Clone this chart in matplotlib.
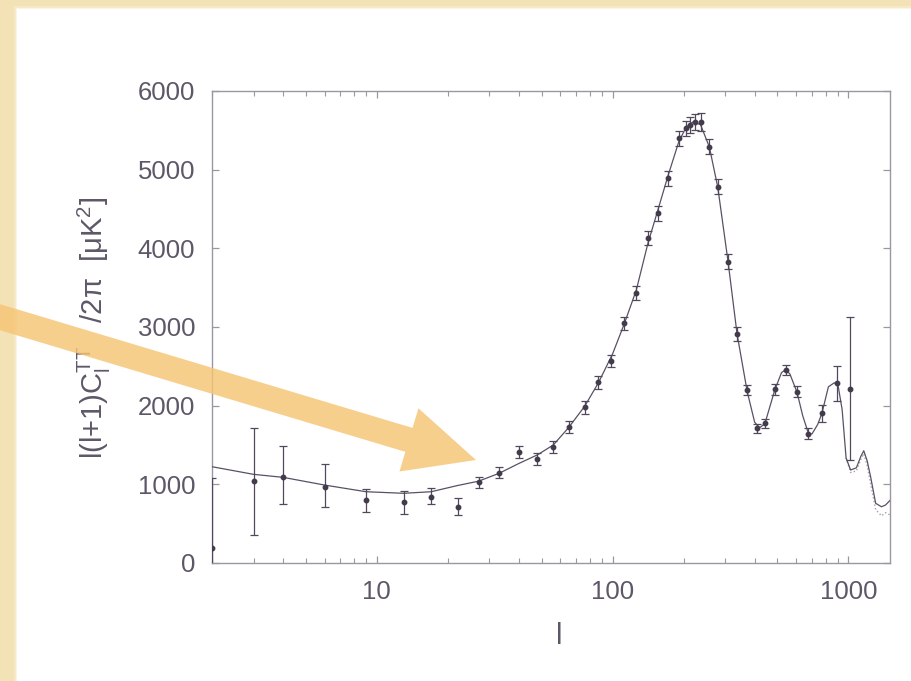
import matplotlib
matplotlib.use("Agg")
import matplotlib.pyplot as plt
from matplotlib.patches import Polygon, Rectangle
from matplotlib.transforms import IdentityTransform

plt.rcParams['font.family'] = ['Liberation Sans', 'DejaVu Sans']

# Binned TT angular power spectrum, l(l+1)C_l/2pi in uK^2
ell = [2, 3, 4, 6, 9, 13, 17, 22, 27, 33, 40, 48, 56, 65, 76, 87, 98,
       112, 126, 141, 156, 172, 191, 204, 213, 223, 236, 257, 279, 308,
       337, 372, 410, 442, 487, 542, 605, 676, 771, 895, 1019]
power = [194, 1046, 1089, 970, 801, 779, 843, 716, 1026, 1150, 1415, 1325,
         1478, 1732, 1980, 2295, 2570, 3047, 3428, 4127, 4445, 4890, 5398,
         5525, 5567, 5609, 5600, 5291, 4783, 3830, 2910, 2199, 1712, 1776,
         2207, 2453, 2177, 1640, 1903, 2284, 2215]
err_lo = [700, 690, 339, 254, 149, 156, 93, 106, 70, 70, 75, 75, 75, 75,
          80, 80, 80, 85, 90, 90, 95, 95, 95, 95, 100, 100, 110, 95, 95,
          95, 90, 60, 60, 60, 70, 65, 70, 70, 110, 230, 910]
err_hi = [882, 674, 398, 288, 136, 136, 107, 106, 70, 70, 75, 75, 75, 75,
          80, 80, 80, 85, 90, 90, 95, 95, 95, 95, 100, 100, 120, 95, 95,
          95, 90, 60, 60, 60, 70, 65, 70, 70, 110, 220, 910]

# Best-fit model spectrum
model_ell = [2, 3, 4, 6, 9, 13, 17, 22, 27, 33, 40, 48, 56, 65, 76, 87,
             100, 112, 126, 141, 156, 172, 191, 205, 220, 236, 257, 279,
             308, 337, 372, 400, 420, 442, 487, 520, 542, 565, 605, 640,
             676, 700, 740, 771, 822, 870, 903, 940, 977, 1021, 1080, 1130,
             1161, 1200, 1241, 1304, 1380, 1436, 1500]
model_power = [1224, 1127, 1089, 991, 906, 886, 906, 985, 1040, 1140, 1265,
               1375, 1500, 1720, 1990, 2290, 2660, 3040, 3470, 4060, 4500,
               4930, 5360, 5540, 5610, 5570, 5290, 4780, 3850, 2910, 2180,
               1790, 1720, 1770, 2200, 2420, 2460, 2400, 2170, 1870, 1650,
               1640, 1760, 1900, 2240, 2290, 2260, 1950, 1335, 1182, 1210,
               1360, 1427, 1300, 1097, 759, 715, 737, 795]

# Alternative model, visible where it departs at high l
alt_ell = [977, 1021, 1080, 1130, 1161, 1200, 1241, 1304, 1380, 1436, 1500]
alt_power = [1335, 1150, 1170, 1320, 1390, 1240, 1010, 680, 600, 640, 610]

y_ticks = [0, 1000, 2000, 3000, 4000, 5000, 6000]
x_ticks = [10, 100, 1000]
x_tick_labels = ['10', '100', '1000']

W, H = 911, 681
BEIGE = '#f3e2b6'
TEXT = '#5d5768'
SPINE = '#9b96a3'
INK = '#433b4c'

fig = plt.figure(figsize=(W / 100, H / 100), dpi=100)
fig.patch.set_facecolor(BEIGE)

# white slide panel with a soft edge
for pad, a in [(3, 0.25), (1.5, 0.5), (0, 1.0)]:
    fig.add_artist(Rectangle((17 - pad, -20), W + 40, H - 9 + 20 + pad,
                             transform=IdentityTransform(),
                             facecolor='white', edgecolor='none', alpha=a,
                             zorder=0))

ax = fig.add_axes([212 / W, (H - 563) / H, (890 - 212) / W, (563 - 91) / H])
ax.patch.set_visible(False)
ax.set_xscale('log')
ax.set_xlim(2, 1500)
ax.set_ylim(0, 6000)

for s in ax.spines.values():
    s.set_color(SPINE)
    s.set_linewidth(1.0)

ax.set_yticks(y_ticks)
ax.set_yticklabels([str(v) for v in y_ticks])
ax.set_xticks(x_ticks)
ax.set_xticklabels(x_tick_labels)
ax.tick_params(which='both', direction='in', top=True, right=True,
               color=SPINE, labelcolor=TEXT, labelsize=18.5, pad=12)
ax.tick_params(which='major', length=5, width=0.9)
ax.tick_params(which='minor', length=3.5, width=0.8)
ax.tick_params(axis='x', which='minor', labelbottom=False)

ax.plot(model_ell, model_power, color='#5a5066', lw=0.9, zorder=3)
ax.plot(alt_ell, alt_power, color='#a6a0ae', lw=1.0, ls=':', zorder=2)
ax.errorbar(ell, power, yerr=[err_lo, err_hi], fmt='o', ms=3.2,
            color=INK, ecolor='#51495b', elinewidth=0.9, capsize=2.6,
            capthick=0.9, zorder=4)

fig.text(559 / W, 1 - 636 / H, 'l', fontsize=21, color=TEXT,
         ha='center', va='center')
fig.text(94 / W, 1 - 328 / H,
         r'l(l+1)C$_\mathregular{l}^\mathregular{TT}$   /2π  [μK$^\mathregular{2}$]',
         fontsize=21, color=TEXT, rotation=90, ha='center', va='center')

# highlight arrow pointing at the low-l plateau
tail_x, tail_y, tip_x, tip_y = -4.0, 316.0, 476.0, 460.0
dx, dy = tip_x - tail_x, tip_y - tail_y
L = (dx ** 2 + dy ** 2) ** 0.5
ux, uy = dx / L, dy / L
nx, ny = -uy, ux
head_len, shaft_hw, head_hw = 70.0, 12.5, 33.0
bx, by = tip_x - head_len * ux, tip_y - head_len * uy
pts_img = [
    (tail_x - shaft_hw * nx, tail_y - shaft_hw * ny),
    (bx - shaft_hw * nx, by - shaft_hw * ny),
    (bx - head_hw * nx, by - head_hw * ny),
    (tip_x, tip_y),
    (bx + head_hw * nx, by + head_hw * ny),
    (bx + shaft_hw * nx, by + shaft_hw * ny),
    (tail_x + shaft_hw * nx, tail_y + shaft_hw * ny),
]
pts = [(x, H - y) for x, y in pts_img]
fig.add_artist(Polygon(pts, closed=True, transform=IdentityTransform(),
                       facecolor='#f6c574', edgecolor='none', alpha=0.82,
                       zorder=10))

fig.savefig('out.png', dpi=100, facecolor=fig.get_facecolor())
